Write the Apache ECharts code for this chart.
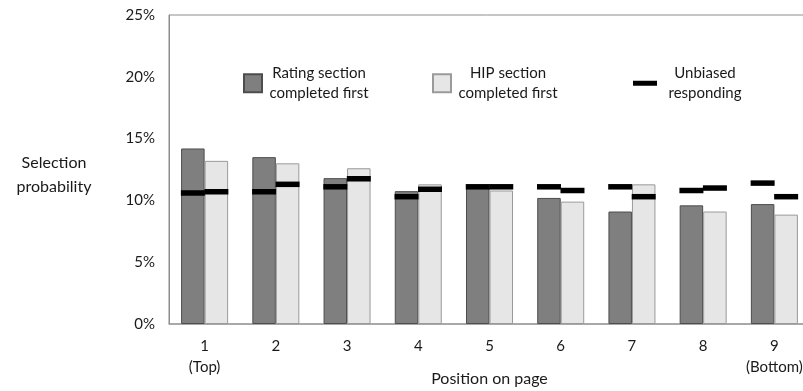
<!DOCTYPE html>
<html>
<head>
<meta charset="utf-8">
<script src="https://cdn.jsdelivr.net/npm/echarts@6/dist/echarts.min.js"></script>
<style>
html,body{margin:0;padding:0;background:#fff;}
#chart{width:803px;height:391px;}
</style>
</head>
<body>
<div id="chart"></div>
<script>
const categories = ['1\n(Top)', '2', '3', '4', '5', '6', '7', '8', '9\n(Bottom)'];
const ratingFirst = [14.2, 13.5, 11.8, 10.75, 11.0, 10.2, 9.1, 9.6, 9.7];
const hipFirst = [13.2, 13.0, 12.6, 11.3, 10.8, 9.9, 11.3, 9.1, 8.85];
const unbiasedRating = [10.6, 10.7, 11.1, 10.3, 11.1, 11.1, 11.1, 10.8, 11.4];
const unbiasedHip = [10.7, 11.3, 11.75, 10.9, 11.1, 10.8, 10.3, 11.0, 10.3];
const yTicks = [0, 5, 10, 15, 20, 25];

const FONT = 'Lato';
const TXT = '#1a1a1a';
const chart = echarts.init(document.getElementById('chart'), null, {renderer: 'canvas'});

function legendRich(w) {
  return {a: {width: w, align: 'center', fontSize: 15, lineHeight: 19.5, fontFamily: FONT, color: TXT}};
}

chart.setOption({
  animation: false,
  textStyle: {fontFamily: FONT, color: TXT},
  grid: {left: 169, top: 15, width: 641, height: 309, show: true, borderColor: '#8c8c8c', borderWidth: 1,
    containLabel: false, outerBoundsMode: 'none'},
  legend: [
    {left: 243, top: 66, itemWidth: 18, itemHeight: 18, itemGap: 0, icon: 'rect', data: ['Rating section completed first'],
      formatter: () => '{a|Rating section}\n{a|completed first}', textStyle: {rich: legendRich(104)}, padding: 0},
    {left: 432, top: 66, itemWidth: 18, itemHeight: 18, itemGap: 0, icon: 'rect', data: ['HIP section completed first'],
      formatter: () => '{a|HIP section}\n{a|completed first}', textStyle: {rich: legendRich(104)}, padding: 0},
    {left: 633, top: 66, itemWidth: 24, itemHeight: 5, itemGap: 0, icon: 'rect', data: ['Unbiased responding'],
      formatter: () => '{a|Unbiased}\n{a|responding}', textStyle: {rich: legendRich(86)}, padding: 0,
      itemStyle: {color: '#000', opacity: 1}}
  ],
  xAxis: {
    type: 'category',
    data: categories,
    axisTick: {show: false},
    axisLine: {lineStyle: {color: '#a0a0a0', width: 1.5}},
    axisLabel: {fontSize: 15, lineHeight: 21, margin: 12, color: TXT, fontFamily: FONT, interval: 0},
    name: 'Position on page',
    nameLocation: 'middle',
    nameGap: 47,
    nameMoveOverlap: false,
    nameTextStyle: {fontSize: 16, color: TXT, fontFamily: FONT}
  },
  yAxis: {
    type: 'value',
    min: 0, max: 25, interval: 5,
    splitLine: {show: false},
    axisTick: {show: false},
    axisLine: {show: true, lineStyle: {color: '#8c8c8c', width: 1}},
    axisLabel: {fontSize: 15, margin: 14, color: TXT, fontFamily: FONT,
      formatter: v => yTicks.includes(v) ? v + '%' : ''},
    name: '{a|Selection}\n{a|probability}',
    nameLocation: 'middle',
    nameRotate: 0,
    nameGap: 70,
    nameMoveOverlap: false,
    nameTextStyle: {padding: [11, 0, 0, 0], rich: {a: {width: 90, align: 'center', fontSize: 16, lineHeight: 24, color: TXT, fontFamily: FONT}}}
  },
  series: [
    {name: 'Rating section completed first', type: 'bar', data: ratingFirst, barGap: 0, barCategoryGap: '34%',
      itemStyle: {color: '#7f7f7f', borderColor: '#4d4d4d', borderWidth: 1}},
    {name: 'HIP section completed first', type: 'bar', data: hipFirst,
      itemStyle: {color: '#e6e6e6', borderColor: '#9a9a9a', borderWidth: 1}},
    {name: 'Unbiased responding', type: 'scatter', data: unbiasedRating, symbol: 'rect', symbolSize: [24, 5.5], symbolOffset: [-11.75, 0], z: 5,
      itemStyle: {color: '#000', opacity: 1}},
    {name: 'Unbiased responding', type: 'scatter', data: unbiasedHip, symbol: 'rect', symbolSize: [24, 5.5], symbolOffset: [11.75, 0], z: 5,
      itemStyle: {color: '#000', opacity: 1}}
  ]
});
</script>
</body>
</html>
